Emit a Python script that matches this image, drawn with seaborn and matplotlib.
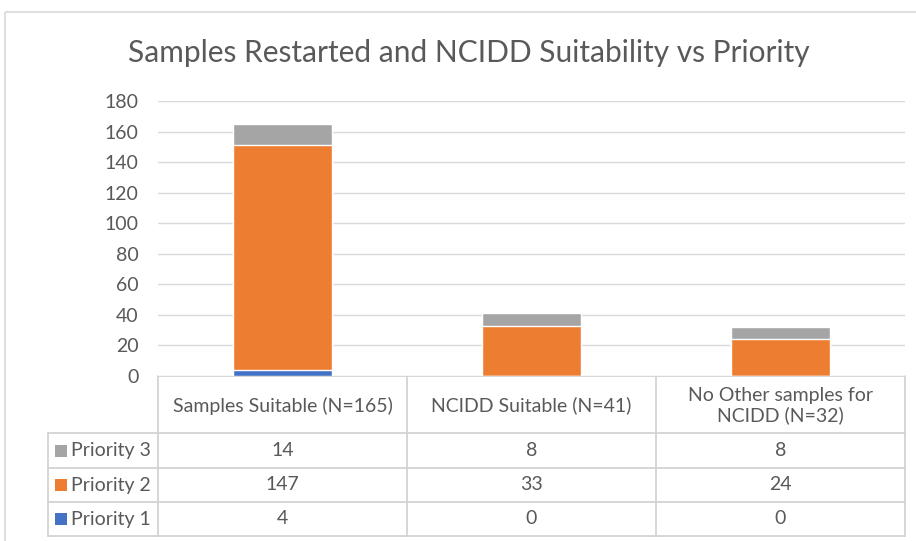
import matplotlib
matplotlib.use("Agg")
import matplotlib.pyplot as plt
import seaborn as sns
import pandas as pd
import numpy as np
from matplotlib.patches import Rectangle

categories = ["Samples Suitable (N=165)", "NCIDD Suitable (N=41)",
              "No Other samples for\nNCIDD (N=32)"]
series_names = ["Priority 1", "Priority 2", "Priority 3"]
priority_1 = [4, 0, 0]
priority_2 = [147, 33, 24]
priority_3 = [14, 8, 8]
y_ticks = [0, 20, 40, 60, 80, 100, 120, 140, 160, 180]
title = "Samples Restarted and NCIDD Suitability vs Priority"

colors = {"Priority 1": "#4472C4", "Priority 2": "#ED7D31", "Priority 3": "#A5A5A5"}
text_color = "#595959"
line_color = "#D9D9D9"

sns.set_theme(style="white")
plt.rcParams["font.family"] = ["Lato", "DejaVu Sans"]

W, H = 916, 541
fig = plt.figure(figsize=(W / 100, H / 100), dpi=100)

# plot area in pixels
left_px, right_px, top_px, bottom_px = 158, 905, 101, 376
ax = fig.add_axes([left_px / W, 1 - bottom_px / H,
                   (right_px - left_px) / W, (bottom_px - top_px) / H])

df = pd.DataFrame({"category": categories,
                   "Priority 1": priority_1,
                   "Priority 2": priority_2,
                   "Priority 3": priority_3})
df["c1"] = df["Priority 1"]
df["c2"] = df["c1"] + df["Priority 2"]
df["c3"] = df["c2"] + df["Priority 3"]

# stacked bars: draw cumulative totals from the top layer down
for col, name in [("c3", "Priority 3"), ("c2", "Priority 2"), ("c1", "Priority 1")]:
    sns.barplot(data=df, x="category", y=col, order=categories, color=colors[name],
                saturation=1, width=0.4, ax=ax, zorder=3)

ax.set_ylim(0, 180)
ax.set_xlim(-0.5, 2.5)
ax.set_yticks(y_ticks)
ax.set_yticklabels([str(t) for t in y_ticks], color=text_color, fontsize=14)
ax.tick_params(axis="y", length=0, pad=14)
ax.set_xticks([])
ax.set_xlabel("")
ax.set_ylabel("")
ax.grid(axis="y", color=line_color, linewidth=1, zorder=0)
for s in ax.spines.values():
    s.set_visible(False)

# overlay in pixel coordinates for frame, title and data table
ov = fig.add_axes([0, 0, 1, 1], zorder=-1)
ov.set_xlim(0, W)
ov.set_ylim(H, 0)
ov.axis("off")
ov.patch.set_alpha(0)

ov.add_patch(Rectangle((5, 12), W, H, fill=False, edgecolor="#D9D9D9", linewidth=1.2))
ov.text(469, 53, title, ha="center", va="center", fontsize=21.5, color=text_color)

# data table
col_edges = [158, 407, 656, 905]
header_top, header_bot = 376, 433
row_edges = [433, 468, 502, 536]
label_left = 48
tc = dict(color="#D0D0D0", linewidth=1.2)

ov.plot([col_edges[0], col_edges[-1]], [header_top, header_top], **tc)
for yy in row_edges:
    ov.plot([label_left, col_edges[-1]], [yy, yy], **tc)
for xx in col_edges:
    ov.plot([xx, xx], [header_top, row_edges[-1]], **tc)
ov.plot([label_left, label_left], [row_edges[0], row_edges[-1]], **tc)

for i, cat in enumerate(categories):
    cx = (col_edges[i] + col_edges[i + 1]) / 2
    ov.text(cx, (header_top + header_bot) / 2 + 1, cat, ha="center", va="center",
            fontsize=14, color=text_color, linespacing=1.2)

table_rows = [("Priority 3", priority_3), ("Priority 2", priority_2), ("Priority 1", priority_1)]
for r, (name, vals) in enumerate(table_rows):
    cy = (row_edges[r] + row_edges[r + 1]) / 2
    ov.add_patch(Rectangle((55, cy - 6), 12, 12, facecolor=colors[name], edgecolor="none"))
    ov.text(71, cy, name, ha="left", va="center", fontsize=14, color=text_color)
    for i, v in enumerate(vals):
        cx = (col_edges[i] + col_edges[i + 1]) / 2
        ov.text(cx, cy, str(v), ha="center", va="center", fontsize=14, color=text_color)

fig.savefig("out.png", dpi=100, facecolor="white")
